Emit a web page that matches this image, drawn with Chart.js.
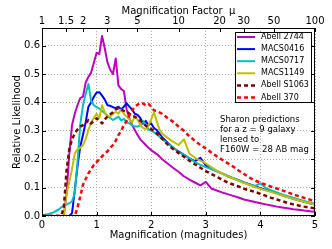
<!DOCTYPE html>
<html>
<head>
<meta charset="utf-8">
<script src="https://cdn.jsdelivr.net/npm/chart.js@4.4.1/dist/chart.umd.min.js"></script>
<style>
  html, body { margin: 0; padding: 0; background: #fff; }
  #grafico { display: block; }
</style>
</head>
<body>
<canvas id="grafico" width="332" height="249"></canvas>
<script>
// Magnification (magnitudes) – shared x grid for every cluster
const mags = [0, 0.1, 0.2, 0.3,
  0.35, 0.4, 0.45, 0.5, 0.55, 0.6, 0.65, 0.7, 0.75, 0.8, 0.85, 0.9, 0.95, 1.0, 1.05, 1.1,
  1.15, 1.2, 1.25, 1.3, 1.35, 1.4, 1.45, 1.5, 1.55, 1.6, 1.65, 1.7, 1.75, 1.8, 1.85, 1.9,
  1.95, 2.0, 2.05, 2.1, 2.15, 2.2,
  2.3, 2.4, 2.5, 2.6, 2.7, 2.8, 2.9, 3.0, 3.1, 3.2, 3.3, 3.4, 3.5, 3.6, 3.7, 3.8, 3.9, 4.0,
  4.1, 4.2, 4.3, 4.4, 4.5, 4.6, 4.7, 4.8, 4.9, 5.0];

// Relative likelihood per cluster
const abell2744 = [0, 0, 0, 0,
  0, 0, 0.08, 0.22, 0.32, 0.36, 0.39, 0.415, 0.42, 0.47, 0.49, 0.505, 0.54, 0.575, 0.57, 0.634,
  0.59, 0.54, 0.515, 0.5, 0.555, 0.46, 0.447, 0.44, 0.375, 0.345, 0.32, 0.303, 0.285, 0.27, 0.26, 0.25,
  0.24, 0.232, 0.225, 0.218, 0.21, 0.2,
  0.185, 0.17, 0.156, 0.14, 0.128, 0.118, 0.108, 0.12, 0.097, 0.09, 0.083, 0.077, 0.071, 0.065, 0.058, 0.054, 0.049, 0.045,
  0.041, 0.037, 0.033, 0.03, 0.027, 0.024, 0.022, 0.019, 0.017, 0.015];

const macs0416 = [0, 0, 0, 0,
  0, 0, 0, 0, 0.01, 0.09, 0.175, 0.244, 0.285, 0.33, 0.385, 0.4, 0.42, 0.435, 0.436, 0.424,
  0.41, 0.39, 0.388, 0.383, 0.38, 0.385, 0.375, 0.385, 0.397, 0.385, 0.375, 0.36, 0.356, 0.345, 0.325, 0.335,
  0.32, 0.326, 0.31, 0.303, 0.29, 0.277,
  0.258, 0.24, 0.228, 0.215, 0.203, 0.193, 0.205, 0.178, 0.166, 0.158, 0.15, 0.141, 0.133, 0.126, 0.118, 0.112, 0.105, 0.098,
  0.092, 0.086, 0.08, 0.073, 0.067, 0.061, 0.055, 0.05, 0.045, 0.04];

const macs0717 = [0.003, 0.006, 0.012, 0.022,
  0.03, 0.035, 0.04, 0.045, 0.052, 0.08, 0.19, 0.32, 0.39, 0.43, 0.465, 0.405, 0.39, 0.383, 0.378, 0.37,
  0.362, 0.352, 0.345, 0.338, 0.344, 0.35, 0.337, 0.342, 0.33, 0.326, 0.32, 0.315, 0.315, 0.32, 0.335, 0.32,
  0.305, 0.3, 0.295, 0.287, 0.28, 0.27,
  0.255, 0.242, 0.225, 0.215, 0.203, 0.19, 0.18, 0.172, 0.165, 0.157, 0.149, 0.14, 0.133, 0.125, 0.117, 0.111, 0.106, 0.115,
  0.098, 0.09, 0.083, 0.076, 0.07, 0.064, 0.058, 0.053, 0.048, 0.043];

const macs1149 = [0, 0, 0, 0,
  0, 0, 0.08, 0.12, 0.165, 0.22, 0.235, 0.24, 0.25, 0.27, 0.303, 0.33, 0.345, 0.36, 0.345, 0.39,
  0.365, 0.352, 0.35, 0.36, 0.367, 0.36, 0.375, 0.36, 0.35, 0.34, 0.33, 0.35, 0.34, 0.32, 0.31, 0.305,
  0.32, 0.34, 0.365, 0.335, 0.305, 0.29,
  0.275, 0.262, 0.25, 0.27, 0.22, 0.205, 0.195, 0.185, 0.172, 0.16, 0.15, 0.14, 0.133, 0.124, 0.116, 0.109, 0.102, 0.096,
  0.09, 0.084, 0.078, 0.072, 0.066, 0.06, 0.055, 0.05, 0.045, 0.04];

const abellS1063 = [0, 0, 0, 0,
  0, 0.03, 0.16, 0.235, 0.27, 0.29, 0.305, 0.315, 0.32, 0.326, 0.338, 0.326, 0.335, 0.344, 0.335, 0.326,
  0.34, 0.35, 0.358, 0.365, 0.375, 0.38, 0.375, 0.37, 0.368, 0.36, 0.352, 0.35, 0.342, 0.335, 0.328, 0.318,
  0.312, 0.306, 0.3, 0.292, 0.282, 0.272,
  0.252, 0.236, 0.222, 0.209, 0.195, 0.182, 0.17, 0.158, 0.148, 0.138, 0.128, 0.118, 0.111, 0.104, 0.096, 0.09, 0.085, 0.078,
  0.071, 0.064, 0.058, 0.052, 0.046, 0.041, 0.037, 0.033, 0.03, 0.027];

const abell370 = [0, 0, 0, 0,
  0, 0, 0, 0, 0, 0, 0.03, 0.068, 0.11, 0.13, 0.15, 0.165, 0.18, 0.19, 0.2, 0.21,
  0.22, 0.228, 0.24, 0.25, 0.265, 0.285, 0.3, 0.32, 0.335, 0.355, 0.37, 0.385, 0.392, 0.398, 0.396, 0.39,
  0.395, 0.385, 0.372, 0.37, 0.365, 0.36,
  0.345, 0.332, 0.315, 0.3, 0.28, 0.265, 0.25, 0.238, 0.224, 0.21, 0.198, 0.186, 0.174, 0.16, 0.148, 0.135, 0.125, 0.117,
  0.11, 0.103, 0.097, 0.09, 0.083, 0.076, 0.07, 0.064, 0.058, 0.052];

// Tick labels
const magTicks = [0, 1, 2, 3, 4, 5];
const muTicks = [1, 1.5, 2, 3, 5, 10, 20, 30, 50, 100];
const yTicks = [0, 0.1, 0.2, 0.3, 0.4, 0.5, 0.6];

const noteLines = ['Sharon predictions', 'for a z = 9 galaxy', 'lensed to', 'F160W = 28 AB mag'];

const FONT = 'DejaVu Sans';

const series = [
  { label: 'Abell 2744', values: abell2744, color: '#bf00bf', dash: [] },
  { label: 'MACS0416', values: macs0416, color: '#0000ff', dash: [] },
  { label: 'MACS0717', values: macs0717, color: '#00bfbf', dash: [] },
  { label: 'MACS1149', values: macs1149, color: '#bfbf00', dash: [] },
  { label: 'Abell S1063', values: abellS1063, color: '#800000', dash: [4, 3] },
  { label: 'Abell 370', values: abell370, color: '#ff0000', dash: [4, 3] }
];

const datasets = series.map((s, i) => ({
  label: s.label,
  data: mags.map((m, j) => ({ x: m, y: s.values[j] })),
  borderColor: s.color,
  borderWidth: s.dash.length ? 2.5 : 2,
  borderDash: s.dash,
  borderCapStyle: 'butt',
  borderJoinStyle: 'round',
  pointRadius: 0,
  tension: 0,
  fill: false,
  order: series.length - i // ultimo por cima
}));

// Moldura + ticks para dentro (estilo matplotlib)
const moldura = {
  id: 'moldura',
  afterDatasetsDraw(chart) {
    const { ctx, chartArea: a, scales } = chart;
    ctx.save();
    ctx.strokeStyle = '#000';
    ctx.lineWidth = 1;
    ctx.setLineDash([]);
    ctx.beginPath();
    scales.x.ticks.forEach(t => {
      const px = Math.round(scales.x.getPixelForValue(t.value)) + 0.5;
      ctx.moveTo(px, a.bottom); ctx.lineTo(px, a.bottom - 4);
    });
    scales.x2.ticks.forEach(t => {
      const px = Math.round(scales.x2.getPixelForValue(t.value)) + 0.5;
      ctx.moveTo(px, a.top); ctx.lineTo(px, a.top + 4);
    });
    scales.y.ticks.forEach(t => {
      const py = Math.round(scales.y.getPixelForValue(t.value)) + 0.5;
      ctx.moveTo(a.left, py); ctx.lineTo(a.left + 4, py);
      ctx.moveTo(a.right, py); ctx.lineTo(a.right - 4, py);
    });
    ctx.stroke();
    ctx.strokeRect(a.left + 0.5, a.top + 0.5, a.right - a.left - 1, a.bottom - a.top - 1);
    ctx.restore();
  }
};

// Legenda dentro do gráfico + texto de nota
const legendaNota = {
  id: 'legendaNota',
  afterDraw(chart) {
    const { ctx, chartArea: a } = chart;
    const bx = a.right - 80, by = a.top + 4, bw = 77, bh = 71;
    ctx.save();
    ctx.fillStyle = '#fff';
    ctx.fillRect(bx, by, bw, bh);
    ctx.strokeStyle = '#000';
    ctx.lineWidth = 1;
    ctx.strokeRect(bx + 0.5, by + 0.5, bw - 1, bh - 1);

    ctx.font = `8px "${FONT}"`;
    ctx.textBaseline = 'middle';
    ctx.textAlign = 'left';
    chart.data.datasets.forEach((d, i) => {
      const y = by + 5 + i * 12.1;
      ctx.beginPath();
      ctx.strokeStyle = d.borderColor;
      ctx.lineWidth = d.borderWidth;
      ctx.setLineDash(d.borderDash);
      ctx.moveTo(bx + 2, y); ctx.lineTo(bx + 20, y);
      ctx.stroke();
      ctx.fillStyle = '#000';
      ctx.fillText(d.label, bx + 26, y);
    });
    ctx.setLineDash([]);

    ctx.font = `8.5px "${FONT}"`;
    ctx.fillStyle = '#000';
    noteLines.forEach((t, i) => ctx.fillText(t, 220, 119.5 + i * 10));
    ctx.restore();
  }
};

new Chart(document.getElementById('grafico'), {
  type: 'line',
  data: { datasets },
  options: {
    responsive: false,
    animation: false,
    devicePixelRatio: 1,
    layout: { padding: { left: 0, right: 17, top: 0, bottom: 0 } },
    plugins: { legend: { display: false }, tooltip: { enabled: false } },
    scales: {
      x: {
        type: 'linear', position: 'bottom', min: 0, max: 5,
        afterBuildTicks: s => { s.ticks = magTicks.map(v => ({ value: v })); },
        afterFit: s => { s.height = 33; },
        ticks: { color: '#000', font: { family: FONT, size: 10 }, padding: 3, maxRotation: 0, autoSkip: false },
        grid: { color: '#aaaaaa', drawTicks: false },
        border: { display: false, dash: [1, 2] },
        title: { display: true, text: 'Magnification (magnitudes)', color: '#000', font: { family: FONT, size: 10 }, padding: { top: 0, bottom: 8 } }
      },
      x2: {
        type: 'linear', position: 'top', min: 0, max: 5,
        afterBuildTicks: s => { s.ticks = muTicks.map(mu => ({ value: 2.5 * Math.log10(mu) })); },
        afterFit: s => { s.height = 28; },
        ticks: {
          color: '#000', font: { family: FONT, size: 10 }, padding: 1, maxRotation: 0, autoSkip: false,
          callback: (v, i) => String(muTicks[i])
        },
        grid: { display: false, drawTicks: false },
        border: { display: false },
        title: { display: true, text: 'Magnification Factor  μ', color: '#000', font: { family: FONT, size: 10 }, padding: { top: 5, bottom: 0 } }
      },
      y: {
        type: 'linear', position: 'left', min: 0, max: 0.662,
        afterBuildTicks: s => { s.ticks = yTicks.map(v => ({ value: v })); },
        afterFit: s => { s.width = 42; },
        ticks: { color: '#000', font: { family: FONT, size: 10 }, padding: 2, callback: v => v.toFixed(1) },
        grid: { color: '#aaaaaa', drawTicks: false },
        border: { display: false, dash: [1, 2] },
        title: { display: true, text: 'Relative Likelihood', color: '#000', font: { family: FONT, size: 10 }, padding: { top: 11, bottom: 0 } }
      }
    }
  },
  plugins: [moldura, legendaNota]
});
</script>
</body>
</html>
